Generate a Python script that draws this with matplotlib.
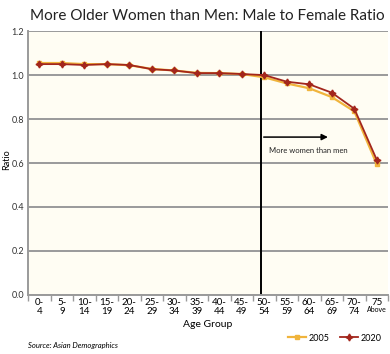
import matplotlib
matplotlib.use("Agg")
import matplotlib.pyplot as plt

plt.rcParams['font.family'] = ['Lato', 'DejaVu Sans']

# Data
age_groups = ["0-\n4", "5-\n9", "10-\n14", "15-\n19", "20-\n24", "25-\n29", "30-\n34",
              "35-\n39", "40-\n44", "45-\n49", "50-\n54", "55-\n59", "60-\n64", "65-\n69",
              "70-\n74", "75"]
ratio_2005 = [1.055, 1.055, 1.050, 1.050, 1.045, 1.028, 1.021, 1.010, 1.009, 1.005,
              0.990, 0.962, 0.940, 0.900, 0.835, 0.594]
ratio_2020 = [1.050, 1.050, 1.046, 1.050, 1.046, 1.027, 1.021, 1.009, 1.009, 1.005,
              1.000, 0.970, 0.958, 0.920, 0.847, 0.614]
y_ticks = [0.0, 0.2, 0.4, 0.6, 0.8, 1.0, 1.2]

c2005 = "#F0B43C"
c2020 = "#A3261C"

fig = plt.figure(figsize=(3.9, 3.54), dpi=100)
ax = fig.add_axes([0.072, 0.167, 0.923, 0.745])
ax.set_facecolor("#FFFDF3")

x = list(range(len(age_groups)))
ax.plot(x, ratio_2005, color=c2005, lw=1.6, marker="s", ms=3, label="2005", zorder=3)
ax.plot(x, ratio_2020, color=c2020, lw=1.3, marker=(4, 1, 0), ms=5, label="2020", zorder=4)

ax.set_xlim(-0.5, 15.5)
ax.set_ylim(0, 1.2)
ax.set_yticks(y_ticks)
ax.set_yticklabels([f"{v:.1f}" for v in y_ticks], fontsize=6.5, color="#333333")
ax.yaxis.grid(True, color="#9A9A9A", lw=1.4)
ax.set_axisbelow(True)
ax.tick_params(axis="y", length=0, pad=3)

ax.set_xticks(x)
ax.set_xticklabels(age_groups, fontsize=7, linespacing=1.05, va="top")
ax.tick_params(axis="x", length=0, pad=2)
ax.set_xticks([i + 0.5 for i in range(-1, 16)], minor=True)
ax.tick_params(axis="x", which="minor", length=4, color="#9A9A9A", width=1)
ax.text(15, -0.068, "Above", fontsize=5, ha="center", va="center")

for s in ["top", "right"]:
    ax.spines[s].set_visible(False)
for s in ["left", "bottom"]:
    ax.spines[s].set_color("#9A9A9A")
    ax.spines[s].set_linewidth(1.4)

ax.axvline(9.85, color="black", lw=1.4, zorder=2)
ax.annotate("", xy=(12.95, 0.718), xytext=(9.85, 0.718),
            arrowprops=dict(arrowstyle="-|>", color="black", lw=1.1, mutation_scale=9))
ax.text(10.2, 0.655, "More women than men", fontsize=5.5, va="center", ha="left", color="#222222")

fig.text(0.017, 0.55, "Ratio", fontsize=6.5, rotation=90, ha="center", va="center")
ax.set_xlabel("Age Group", fontsize=7.5, labelpad=3)

fig.text(0.077, 0.955, "More Older Women than Men: Male to Female Ratio", fontsize=11,
         ha="left", va="center", color="#222222")
fig.text(0.072, 0.025, "Source: Asian Demographics", fontsize=5.5, style="italic",
         ha="left", va="center")

fig.legend(loc="center right", bbox_to_anchor=(1.0, 0.045), ncol=2, frameon=False,
           fontsize=6.5, handlelength=2, columnspacing=1.2, handletextpad=0.3)

fig.savefig("out.png", dpi=100)
